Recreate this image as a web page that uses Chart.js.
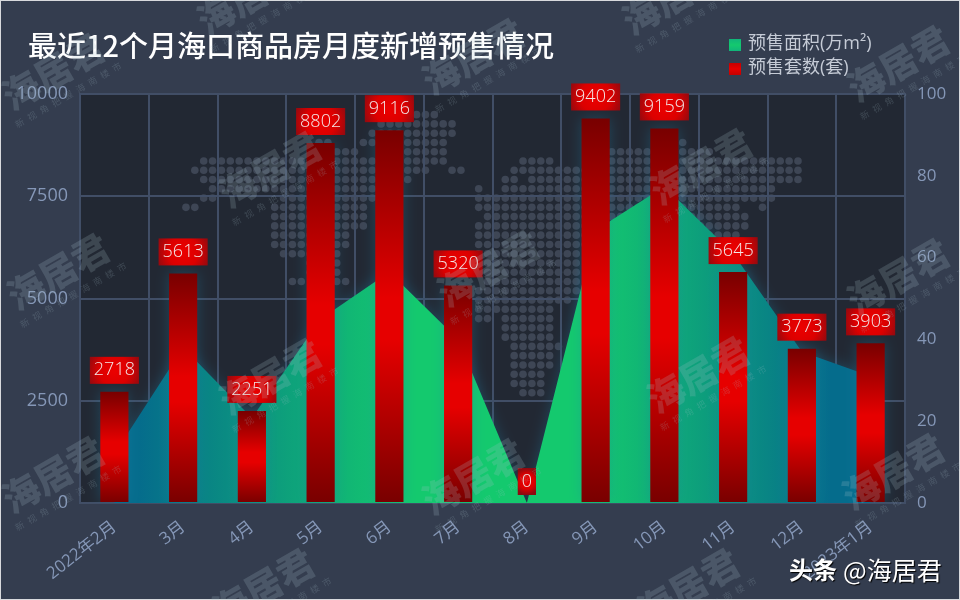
<!DOCTYPE html>
<html lang="zh">
<head>
<meta charset="utf-8">
<title>最近12个月海口商品房月度新增预售情况</title>
<script src="https://cdn.jsdelivr.net/npm/chart.js@4"></script>
<style>
  html, body { margin: 0; padding: 0; background: #343d4f; }
  canvas { display: block; }
</style>
</head>
<body>
<canvas id="presaleChart" width="960" height="600"></canvas>
<script>
const categories = ["2022年2月", "3月", "4月", "5月", "6月", "7月", "8月", "9月", "10月", "11月", "12月", "2023年1月"];
const presaleArea = [12, 38, 20.8, 45, 56.5, 40, 0, 66.7, 77.4, 61, 37, 31];
const presaleUnits = [2718, 5613, 2251, 8802, 9116, 5320, 0, 9402, 9159, 5645, 3773, 3903];

const chartTitle = "最近12个月海口商品房月度新增预售情况";
const legendLabels = ["预售面积(万m²)", "预售套数(套)"];

const FONT = '"Open Sans", "Noto Sans CJK SC", sans-serif';
const CJK_FONT = '"Noto Sans CJK SC", "Open Sans", sans-serif';
const TICK_COLOR = "#8597b7";
const GRID_COLOR = "#414e66";

/* -------------------------------- */
/* BACKGROUND DOT MAP (decoration)  */
/* -------------------------------- */

// row, then [first col, last col] runs on the dot lattice
const mapRows = [
  [-5, [24, 26]],
  [-4, [20, 28]],
  [-3, [19, 28]],
  [-2, [13, 14], [18, 27], [54, 54]],
  [-1, [12, 17], [23, 27], [46, 50], [54, 57]],
  [0, [0, 27], [36, 39], [46, 50], [54, 67]],
  [1, [-1, 25], [28, 29], [35, 67]],
  [2, [0, 19], [23, 23], [34, 35], [37, 67]],
  [3, [1, 19], [31, 31], [34, 64]],
  [4, [0, 1], [9, 19], [31, 64]],
  [5, [-2, -1], [8, 18], [31, 60], [63, 63]],
  [6, [8, 18], [32, 61]],
  [7, [8, 18], [31, 61]],
  [8, [8, 16], [31, 60]],
  [9, [8, 16], [31, 60]],
  [10, [9, 15], [31, 42]],
  [11, [12, 15], [31, 42]],
  [12, [12, 15], [31, 42]],
  [13, [10, 11], [15, 16], [32, 42]],
  [14, [31, 42]],
  [15, [31, 41]],
  [16, [31, 39]],
  [17, [31, 32], [34, 39]],
  [18, [34, 39]],
  [19, [34, 39]],
  [20, [35, 40]],
  [21, [35, 39]],
  [22, [35, 39]],
  [23, [35, 38]],
  [24, [35, 38]],
  [25, [36, 38]],
];

const watermarkSpots = [
  [250, 0], [675, 0],
  [55, 75], [475, 60], [900, 67],
  [272, 173], [703, 170],
  [60, 275], [490, 272], [900, 280],
  [272, 380], [700, 378],
  [55, 478], [475, 480], [895, 475],
  [265, 590], [690, 590],
];

function drawDotMap(ctx) {
  ctx.fillStyle = "#3e4655";
  mapRows.forEach(function (row) {
    const y = 161 + row[0] * 9.27;
    row.slice(1).forEach(function (run) {
      for (let col = run[0]; col <= run[1]; col++) {
        ctx.beginPath();
        ctx.arc(203.7 + col * 8.87, y, 3.8, 0, Math.PI * 2);
        ctx.fill();
      }
    });
  });
}

function drawWatermarks(ctx) {
  ctx.save();
  ctx.fillStyle = "rgba(170,195,205,0.2)";
  ctx.textAlign = "center";
  ctx.textBaseline = "middle";
  watermarkSpots.forEach(function (spot) {
    ctx.save();
    ctx.translate(spot[0], spot[1]);
    ctx.rotate(-30 * Math.PI / 180);
    ctx.font = "900 37px " + CJK_FONT;
    ctx.fillText("海居君", 0, -4);
    ctx.font = "9px " + CJK_FONT;
    ctx.letterSpacing = "5px";
    ctx.fillText("新视角把握海南楼市", 4, 24);
    ctx.restore();
  });
  ctx.restore();
}

/* -------------------------------- */
/* PAGE DECORATION PLUGIN           */
/* -------------------------------- */

const pagePlugin = {
  id: "pagePlugin",
  beforeDraw: function (chart) {
    const ctx = chart.ctx;
    const area = chart.chartArea;
    ctx.save();
    ctx.fillStyle = "#343d4f";
    ctx.fillRect(0, 0, chart.width, chart.height);
    ctx.strokeStyle = "#d8dadd";
    ctx.lineWidth = 1;
    ctx.strokeRect(0.5, 0.5, chart.width - 1, chart.height - 1);
    ctx.fillStyle = "#222833";
    ctx.fillRect(area.left, area.top, area.right - area.left, area.bottom - area.top);
    drawDotMap(ctx);
    ctx.restore();
  },
  // glow on the area and on the bars
  beforeDatasetsDraw: function (chart) {
    const ctx = chart.ctx;
    ctx.save();
    ctx.shadowColor = "rgba(30,130,170,0.35)";
    ctx.shadowBlur = 14;
  },
  afterDatasetsDraw: function (chart) {
    chart.ctx.restore();
    drawBarLabels(chart);
  },
  afterDraw: function (chart) {
    const ctx = chart.ctx;
    ctx.save();
    ctx.textBaseline = "middle";

    // title
    ctx.fillStyle = "#ffffff";
    ctx.font = "500 29px " + CJK_FONT;
    ctx.fillText(chartTitle, 28, 46);

    // legend
    ctx.font = "18px " + FONT;
    legendLabels.forEach(function (label, i) {
      const y = 39 + i * 24;
      const g = ctx.createLinearGradient(0, y, 0, y + 12);
      g.addColorStop(0, i === 0 ? "#10b57a" : "#c50000");
      g.addColorStop(0.5, i === 0 ? "#14c96e" : "#e60000");
      g.addColorStop(1, i === 0 ? "#10b57a" : "#c50000");
      ctx.fillStyle = g;
      ctx.fillRect(729, y, 12, 12);
      ctx.fillStyle = "#c5cbd6";
      ctx.fillText(label, 748, y + 5);
    });
    ctx.restore();

    drawWatermarks(ctx);

    // source tag
    ctx.save();
    ctx.textBaseline = "middle";
    ctx.shadowColor = "#000000";
    ctx.shadowOffsetX = 1;
    ctx.shadowOffsetY = 1;
    ctx.shadowBlur = 1;
    ctx.fillStyle = "#ffffff";
    ctx.font = "700 24px " + CJK_FONT;
    ctx.fillText("头条", 789, 570);
    ctx.font = "25px " + CJK_FONT;
    ctx.fillText("@海居君", 843, 570);
    ctx.restore();
  },
};

function drawBarLabels(chart) {
  const ctx = chart.ctx;
  const meta = chart.getDatasetMeta(1);
  ctx.save();
  ctx.font = "300 18px " + FONT;
  ctx.textAlign = "center";
  ctx.textBaseline = "middle";
  meta.data.forEach(function (bar, i) {
    const text = String(presaleUnits[i]);
    const w = ctx.measureText(text).width + 8;
    const h = 27;
    const top = bar.y - 8 - h;
    const left = bar.x - w / 2;
    const g = ctx.createRadialGradient(bar.x, top + h / 2, 2, bar.x, top + h / 2, w / 2 + 4);
    g.addColorStop(0, "#ea0000");
    g.addColorStop(0.5, "#dc0000");
    g.addColorStop(1, "#8e0a10");
    ctx.fillStyle = g;
    ctx.fillRect(left, top, w, h);
    ctx.fillStyle = "#f3e6e6";
    ctx.fillText(text, bar.x, top + h / 2);
  });
  ctx.restore();
}

/* -------------------------------- */
/* CHART                            */
/* -------------------------------- */

function areaFill(context) {
  const area = context.chart.chartArea;
  if (!area) return "#14c96e";
  const g = context.chart.ctx.createLinearGradient(area.left, 0, area.right, 0);
  g.addColorStop(0.07, "#056c8c");
  g.addColorStop(0.39, "#14c96e");
  g.addColorStop(0.62, "#14c96e");
  g.addColorStop(0.91, "#056c8c");
  return g;
}

function barFill(context) {
  const scale = context.chart.scales.y;
  if (!context.chart.chartArea || !context.parsed) return "#e60000";
  const top = scale.getPixelForValue(context.parsed.y);
  const bottom = scale.getPixelForValue(0);
  if (!Number.isFinite(top) || !Number.isFinite(bottom)) return "#e60000";
  const g = context.chart.ctx.createLinearGradient(0, top, 0, bottom);
  g.addColorStop(0, "#780000");
  g.addColorStop(0.45, "#e60000");
  g.addColorStop(0.56, "#e60000");
  g.addColorStop(1, "#780000");
  return g;
}

function plainTick(value) {
  return String(value);
}

const presaleChart = new Chart(document.getElementById("presaleChart"), {
  type: "bar",
  data: {
    labels: categories,
    datasets: [
      {
        type: "line",
        label: legendLabels[0],
        data: presaleArea,
        yAxisID: "y1",
        order: 2,
        tension: 0,
        pointRadius: 0,
        borderWidth: 0,
        borderColor: "rgba(0,0,0,0)",
        backgroundColor: areaFill,
        fill: "origin",
      },
      {
        label: legendLabels[1],
        data: presaleUnits,
        yAxisID: "y",
        order: 1,
        backgroundColor: barFill,
        borderWidth: 0,
        barPercentage: 0.41,
        categoryPercentage: 1,
      },
    ],
  },
  options: {
    responsive: false,
    animation: false,
    layout: { padding: { top: 94 } },
    plugins: {
      legend: { display: false },
      tooltip: { enabled: false },
    },
    scales: {
      x: {
        grid: { color: GRID_COLOR, lineWidth: 2, drawTicks: false },
        border: { color: GRID_COLOR, width: 2 },
        ticks: {
          color: TICK_COLOR,
          font: { family: FONT, size: 17 },
          minRotation: 38,
          maxRotation: 38,
          autoSkip: false,
          padding: 14,
        },
        afterFit: function (scale) { scale.height = 97; },
      },
      y: {
        position: "left",
        min: 0,
        max: 10000,
        grid: { color: GRID_COLOR, lineWidth: 2, drawTicks: false },
        border: { color: GRID_COLOR, width: 2 },
        ticks: {
          stepSize: 2500,
          color: TICK_COLOR,
          font: { family: FONT, size: 18 },
          padding: 12,
          callback: plainTick,
        },
        afterFit: function (scale) { scale.width = 80; },
      },
      y1: {
        position: "right",
        min: 0,
        max: 100,
        grid: { drawOnChartArea: false, drawTicks: false },
        border: { color: GRID_COLOR, width: 2 },
        ticks: {
          stepSize: 20,
          color: TICK_COLOR,
          font: { family: FONT, size: 17 },
          padding: 12,
          callback: plainTick,
        },
        afterFit: function (scale) { scale.width = 55; },
      },
    },
  },
  plugins: [pagePlugin],
});
</script>
</body>
</html>
